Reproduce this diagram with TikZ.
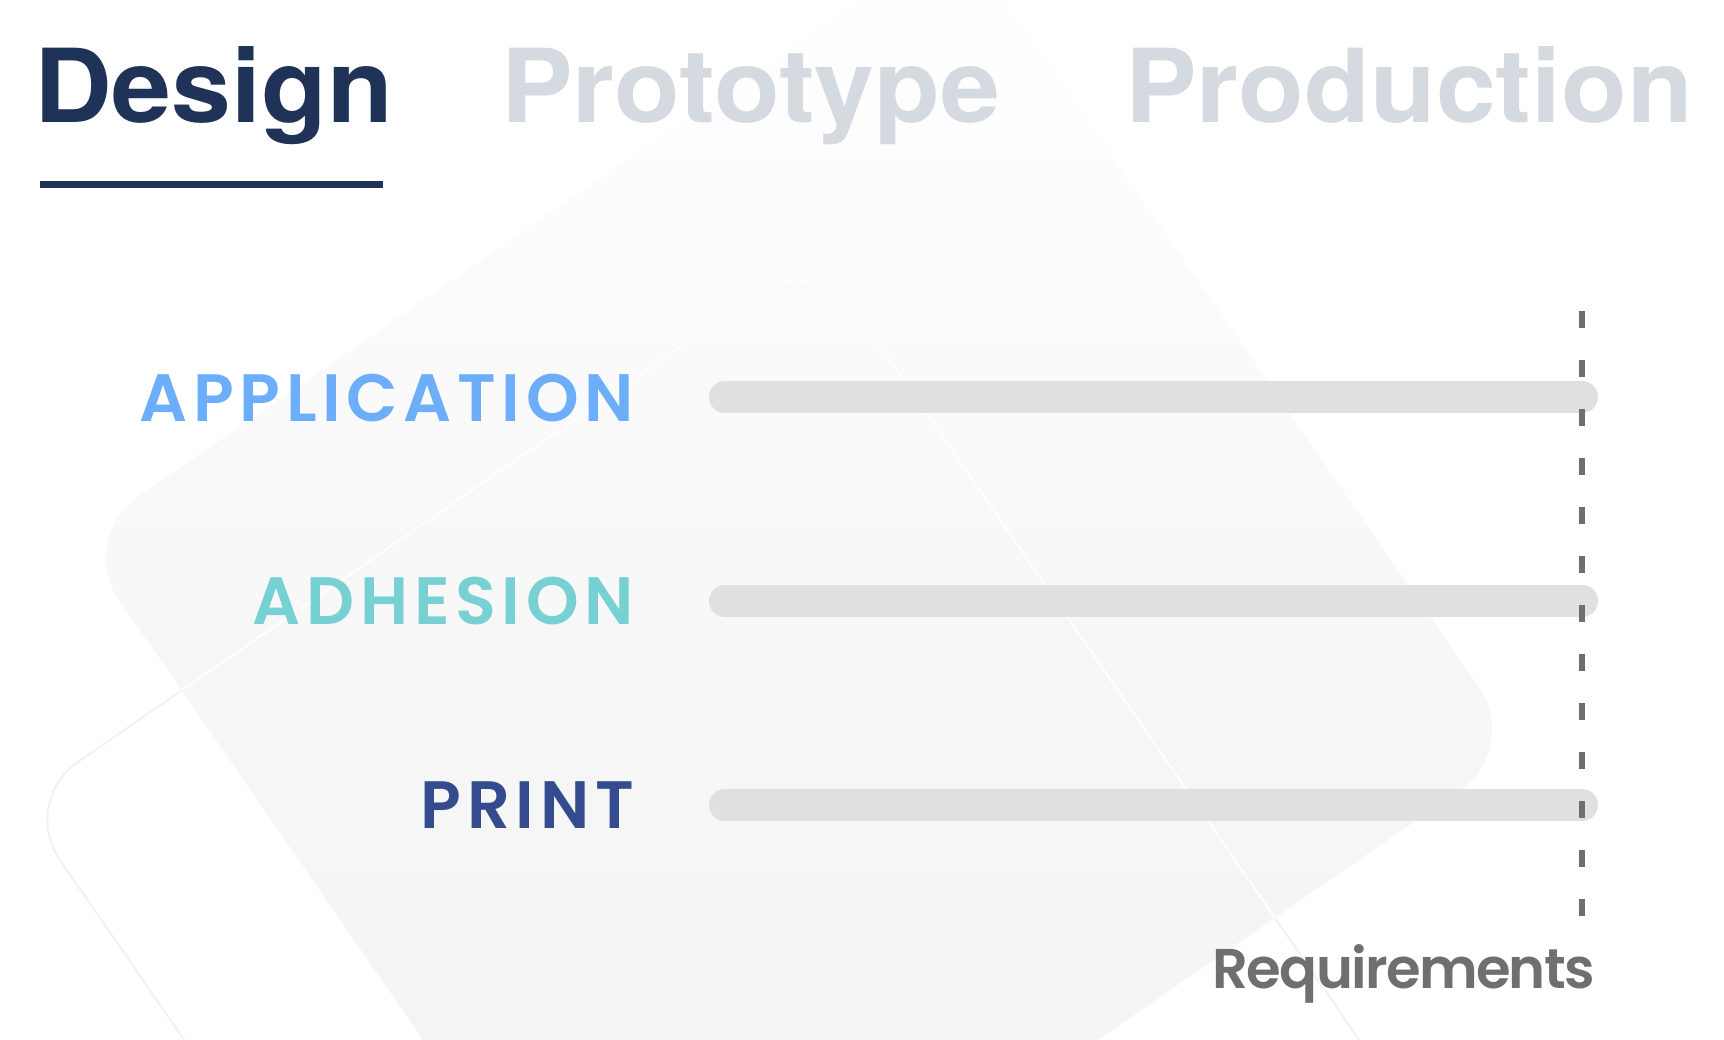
\documentclass[tikz,border=0pt]{standalone}
\usepackage{fontspec}
\setmainfont{TeX Gyre Heros}[FakeStretch=1.055]
\newfontfamily\poppins{Poppins SemiBold}[LetterSpace=-3]
\newfontfamily\poppinsspaced{Poppins SemiBold}[LetterSpace=8.5]
\usetikzlibrary{positioning}
\definecolor{navy}{HTML}{1F3358}
\definecolor{tabgrey}{HTML}{D5D9E0}
\definecolor{appblue}{HTML}{6CAEF9}
\definecolor{adhteal}{HTML}{77D1D3}
\definecolor{printblue}{HTML}{344C8E}
\definecolor{bargrey}{HTML}{E0E0E0}
\definecolor{reqgrey}{HTML}{6F6F6F}
\definecolor{bgbottom}{HTML}{F2F2F3}
\definecolor{edgegrey}{HTML}{F2F2F2}

\begin{document}
\begin{tikzpicture}[
    x=1pt, y=-1pt,
    tab/.style={anchor=base west, inner sep=0pt, font=\fontsize{102}{102}\selectfont\bfseries},
    tabline/.style={navy, line width=7pt},
    category/.style={anchor=base east, inner sep=0pt, font=\fontsize{67}{67}\selectfont\poppinsspaced},
    bar/.style={bargrey, line width=32pt, line cap=round},
    reqline/.style={reqgrey, line width=5.5pt, dash pattern=on 17pt off 32pt},
    reqlabel/.style={anchor=base east, inner sep=0pt, text=reqgrey, font=\fontsize{56}{56}\selectfont\poppins},
    backdrop/.style={rounded corners=74pt, top color=white, bottom color=bgbottom, middle color=bgbottom!60!white},
    frame/.style={rounded corners=70pt, line width=2pt}
]
\useasboundingbox (0,0) rectangle (1724,1040);
\clip (0,0) rectangle (1724,1040);
\fill[white] (0,0) rectangle (1724,1040);

% Backdrop shapes
\coordinate (bgL) at (77,539);
\coordinate (bgT) at (957,-68);
\coordinate (bgR) at (1521,748);
\coordinate (bgB) at (641,1355);
\coordinate (frL) at (20,802);
\coordinate (frT) at (816,253);
\coordinate (frR) at (1498,1241);
\coordinate (frB) at (702,1790);
\shade[backdrop] (bgL) -- (bgT) -- (bgR) -- (bgB) -- cycle;
\draw[frame, edgegrey] (frL) -- (frT) -- (frR) -- (frB) -- cycle;
\begin{scope}
  \clip[rounded corners=74pt] (bgL) -- (bgT) -- (bgR) -- (bgB) -- cycle;
  \draw[frame, white] (frL) -- (frT) -- (frR) -- (frB) -- cycle;
\end{scope}

% Tabs
\node[tab, text=navy] (design) at (34,123) {Design};
\node[tab, text=tabgrey] (prototype) at (501,123) {Prototype};
\node[tab, text=tabgrey] (production) at (1125,123) {Production};
\draw[tabline] ([xshift=6pt, yshift=-39pt]design.south west) -- ([xshift=-10pt, yshift=-39pt]design.south east);

% Categories
\node[category, text=appblue] (app) at (634,421) {APPLICATION};
\node[category, text=adhteal] (adh) at (634,624) {ADHESION};
\node[category, text=printblue] (print) at (634,828) {PRINT};

\foreach \y in {397,601,805}
  \draw[bar] (725,\y) -- (1582,\y);

% Requirements line
\coordinate (reqtop) at (1582,311);
\coordinate (reqbot) at (1582,917);
\draw[reqline] (reqtop) -- (reqbot);
\node[reqlabel] (req) at (1595,988) {Requirements};

\end{tikzpicture}
\end{document}
